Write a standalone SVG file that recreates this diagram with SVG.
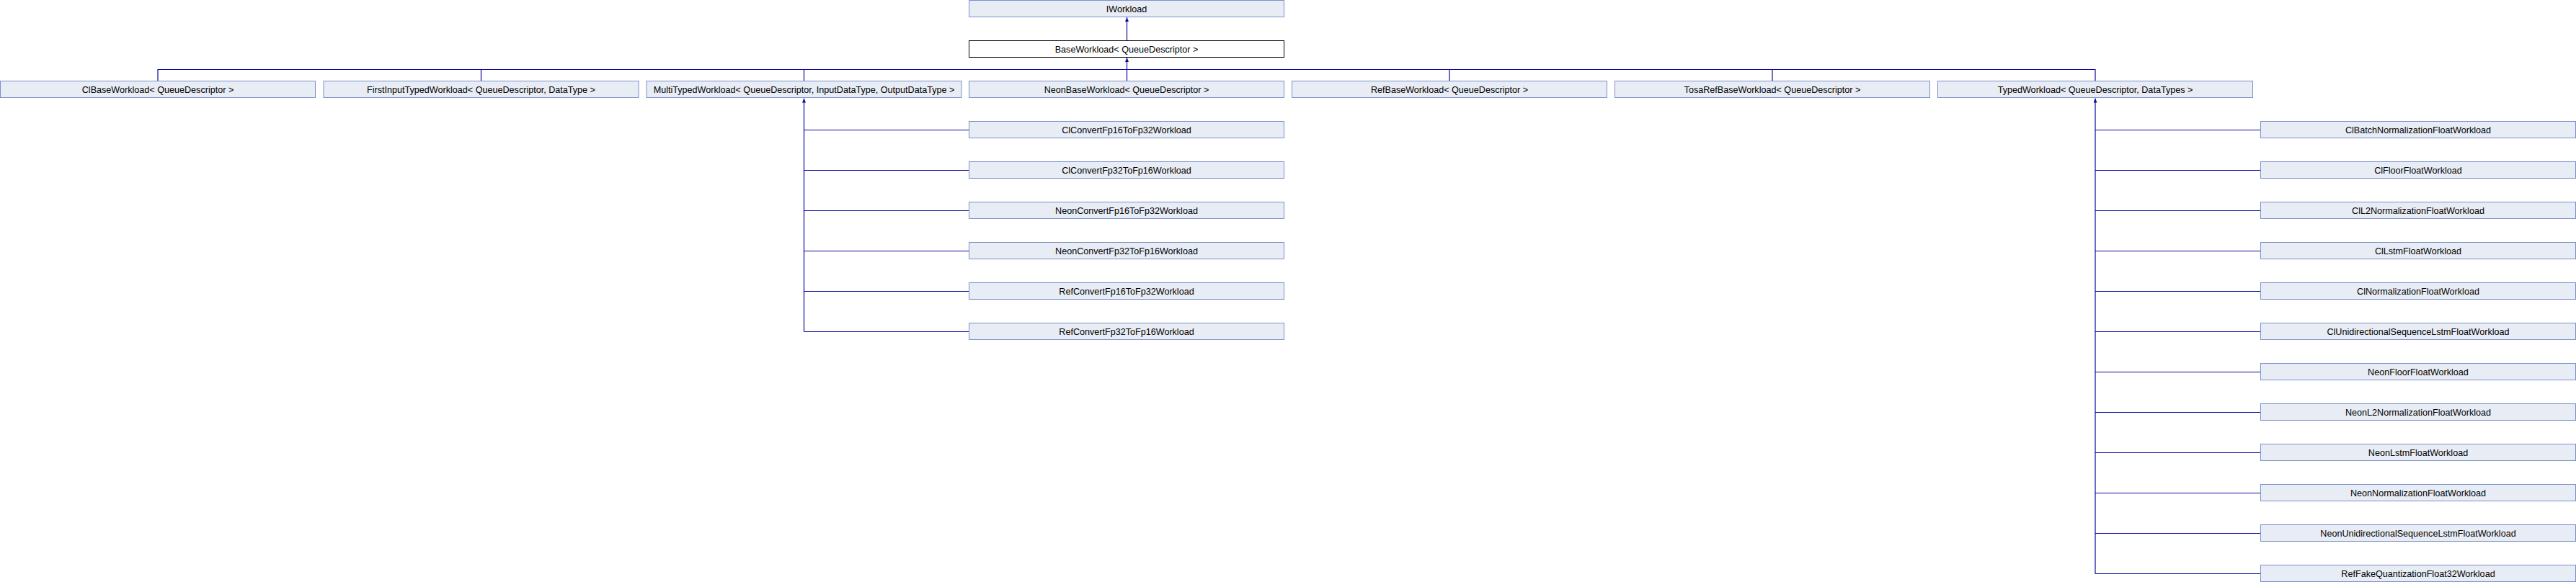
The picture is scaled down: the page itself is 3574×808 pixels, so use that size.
<svg xmlns="http://www.w3.org/2000/svg" width="3574" height="808" viewBox="0 0 3574 808">
<style>
.n rect{fill:#e8ecf5;stroke:#7b90c9;stroke-width:1}
.b rect{fill:#ffffff;stroke:#000000;stroke-width:1}
text{font-family:"Liberation Sans",Arial,sans-serif;font-size:12.6px;fill:#000;text-anchor:middle}
.e{stroke:#0a0a9c;stroke-width:1.2;fill:none}
</style>
<defs>
<marker id="ah" markerUnits="userSpaceOnUse" markerWidth="6" markerHeight="5" viewBox="0 0 12 10" refX="12" refY="5" orient="auto">
<path d="M0,0 L12,5 L0,10 z" fill="#0a0a9c"/>
</marker>
</defs>
<g id="connectors">
<line class="e" x1="1563.5" y1="56.5" x2="1563.5" y2="24" marker-end="url(#ah)"/>
<line class="e" x1="1563.5" y1="96.5" x2="1563.5" y2="80" marker-end="url(#ah)"/>
<path class="e" d="M219,112.5 V96.5 H2907 V112.5 M667.5,96.5 V112.5 M1115.5,96.5 V112.5 M1563.5,96.5 V112.5 M2011,96.5 V112.5 M2459,96.5 V112.5"/>
<line class="e" x1="1115.5" y1="460.5" x2="1115.5" y2="136.5" marker-end="url(#ah)"/>
<path class="e" d="M1115.5,180.5 H1344.5 M1115.5,236.5 H1344.5 M1115.5,292.5 H1344.5 M1115.5,348.5 H1344.5 M1115.5,404.5 H1344.5 M1115.5,460.5 H1344.5"/>
<line class="e" x1="2907" y1="796.5" x2="2907" y2="136.5" marker-end="url(#ah)"/>
<path class="e" d="M2907,180.5 H3136.5 M2907,236.5 H3136.5 M2907,292.5 H3136.5 M2907,348.5 H3136.5 M2907,404.5 H3136.5 M2907,460.5 H3136.5 M2907,516.5 H3136.5 M2907,572.5 H3136.5 M2907,628.5 H3136.5 M2907,684.5 H3136.5 M2907,740.5 H3136.5 M2907,796.5 H3136.5"/>
</g>
<g id="IWorkload" class="n"><rect x="1344.5" y="0.5" width="437" height="23"/><text x="1563" y="16.5">IWorkload</text></g>
<g id="BaseWorkload" class="b"><rect x="1344.5" y="56.5" width="437" height="23"/><text x="1563" y="72.5">BaseWorkload&lt; QueueDescriptor &gt;</text></g>
<g id="ClBaseWorkload" class="n"><rect x="0.5" y="112.5" width="437" height="23"/><text x="219" y="128.5">ClBaseWorkload&lt; QueueDescriptor &gt;</text></g>
<g id="FirstInputTypedWorkload" class="n"><rect x="449" y="112.5" width="437" height="23"/><text x="667.5" y="128.5">FirstInputTypedWorkload&lt; QueueDescriptor, DataType &gt;</text></g>
<g id="MultiTypedWorkload" class="n"><rect x="897" y="112.5" width="437" height="23"/><text x="1115.5" y="128.5">MultiTypedWorkload&lt; QueueDescriptor, InputDataType, OutputDataType &gt;</text></g>
<g id="NeonBaseWorkload" class="n"><rect x="1344.5" y="112.5" width="437" height="23"/><text x="1563" y="128.5">NeonBaseWorkload&lt; QueueDescriptor &gt;</text></g>
<g id="RefBaseWorkload" class="n"><rect x="1792.5" y="112.5" width="437" height="23"/><text x="2011" y="128.5">RefBaseWorkload&lt; QueueDescriptor &gt;</text></g>
<g id="TosaRefBaseWorkload" class="n"><rect x="2240.5" y="112.5" width="437" height="23"/><text x="2459" y="128.5">TosaRefBaseWorkload&lt; QueueDescriptor &gt;</text></g>
<g id="TypedWorkload" class="n"><rect x="2688.5" y="112.5" width="437" height="23"/><text x="2907" y="128.5">TypedWorkload&lt; QueueDescriptor, DataTypes &gt;</text></g>
<g id="ClConvertFp16ToFp32Workload" class="n"><rect x="1344.5" y="168.5" width="437" height="23"/><text x="1563" y="184.5">ClConvertFp16ToFp32Workload</text></g>
<g id="ClConvertFp32ToFp16Workload" class="n"><rect x="1344.5" y="224.5" width="437" height="23"/><text x="1563" y="240.5">ClConvertFp32ToFp16Workload</text></g>
<g id="NeonConvertFp16ToFp32Workload" class="n"><rect x="1344.5" y="280.5" width="437" height="23"/><text x="1563" y="296.5">NeonConvertFp16ToFp32Workload</text></g>
<g id="NeonConvertFp32ToFp16Workload" class="n"><rect x="1344.5" y="336.5" width="437" height="23"/><text x="1563" y="352.5">NeonConvertFp32ToFp16Workload</text></g>
<g id="RefConvertFp16ToFp32Workload" class="n"><rect x="1344.5" y="392.5" width="437" height="23"/><text x="1563" y="408.5">RefConvertFp16ToFp32Workload</text></g>
<g id="RefConvertFp32ToFp16Workload" class="n"><rect x="1344.5" y="448.5" width="437" height="23"/><text x="1563" y="464.5">RefConvertFp32ToFp16Workload</text></g>
<g id="ClBatchNormalizationFloatWorkload" class="n"><rect x="3136.5" y="168.5" width="437" height="23"/><text x="3355" y="184.5">ClBatchNormalizationFloatWorkload</text></g>
<g id="ClFloorFloatWorkload" class="n"><rect x="3136.5" y="224.5" width="437" height="23"/><text x="3355" y="240.5">ClFloorFloatWorkload</text></g>
<g id="ClL2NormalizationFloatWorkload" class="n"><rect x="3136.5" y="280.5" width="437" height="23"/><text x="3355" y="296.5">ClL2NormalizationFloatWorkload</text></g>
<g id="ClLstmFloatWorkload" class="n"><rect x="3136.5" y="336.5" width="437" height="23"/><text x="3355" y="352.5">ClLstmFloatWorkload</text></g>
<g id="ClNormalizationFloatWorkload" class="n"><rect x="3136.5" y="392.5" width="437" height="23"/><text x="3355" y="408.5">ClNormalizationFloatWorkload</text></g>
<g id="ClUnidirectionalSequenceLstmFloatWorkload" class="n"><rect x="3136.5" y="448.5" width="437" height="23"/><text x="3355" y="464.5">ClUnidirectionalSequenceLstmFloatWorkload</text></g>
<g id="NeonFloorFloatWorkload" class="n"><rect x="3136.5" y="504.5" width="437" height="23"/><text x="3355" y="520.5">NeonFloorFloatWorkload</text></g>
<g id="NeonL2NormalizationFloatWorkload" class="n"><rect x="3136.5" y="560.5" width="437" height="23"/><text x="3355" y="576.5">NeonL2NormalizationFloatWorkload</text></g>
<g id="NeonLstmFloatWorkload" class="n"><rect x="3136.5" y="616.5" width="437" height="23"/><text x="3355" y="632.5">NeonLstmFloatWorkload</text></g>
<g id="NeonNormalizationFloatWorkload" class="n"><rect x="3136.5" y="672.5" width="437" height="23"/><text x="3355" y="688.5">NeonNormalizationFloatWorkload</text></g>
<g id="NeonUnidirectionalSequenceLstmFloatWorkload" class="n"><rect x="3136.5" y="728.5" width="437" height="23"/><text x="3355" y="744.5">NeonUnidirectionalSequenceLstmFloatWorkload</text></g>
<g id="RefFakeQuantizationFloat32Workload" class="n"><rect x="3136.5" y="784.5" width="437" height="23"/><text x="3355" y="800.5">RefFakeQuantizationFloat32Workload</text></g>
</svg>
